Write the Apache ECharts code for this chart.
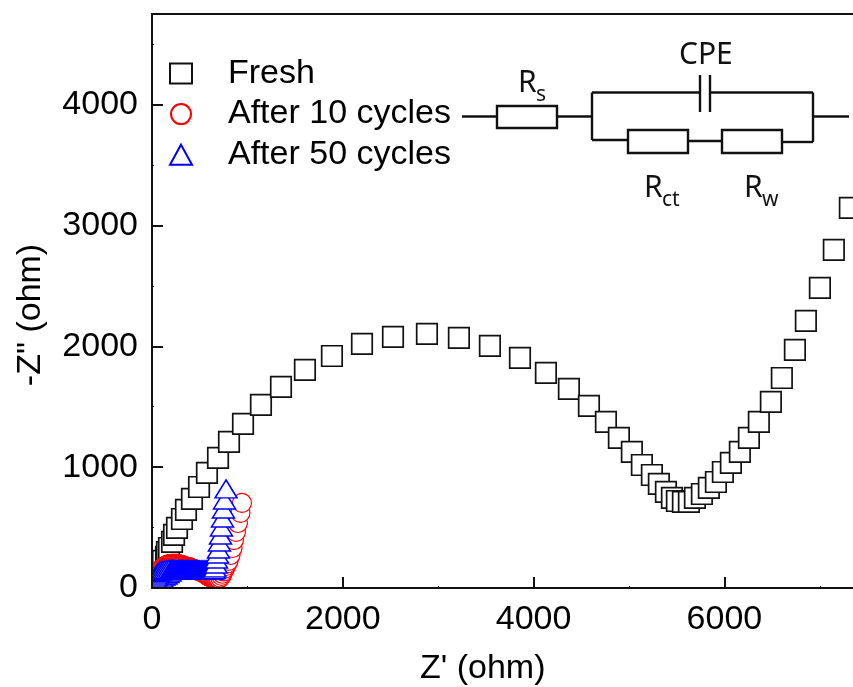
<!DOCTYPE html>
<html>
<head>
<meta charset="utf-8">
<title>Nyquist plot</title>
<script src="https://cdn.jsdelivr.net/npm/echarts@6/dist/echarts.min.js"></script>
<style>
html, body { margin: 0; padding: 0; background: #fff; overflow: hidden; }
#chart { width: 853px; height: 687px; }
</style>
</head>
<body>
<div id="chart"></div>
<script>
// Values
const freshX = [73, 84, 94, 105, 115, 147, 157, 178, 210, 231, 262, 314, 356, 419, 493, 576, 692, 807, 954, 1142, 1352, 1603, 1886, 2201, 2526, 2882, 3217, 3542, 3857, 4129, 4370, 4580, 4758, 4894, 5030, 5135, 5240, 5313, 5387, 5450, 5502, 5565, 5628, 5691, 5764, 5837, 5911, 5984, 6068, 6162, 6257, 6361, 6487, 6602, 6739, 6854, 7001, 7147, 7315];
const freshY = [83, 116, 149, 182, 224, 257, 298, 331, 381, 439, 497, 571, 646, 737, 836, 952, 1076, 1209, 1358, 1515, 1664, 1805, 1920, 2020, 2078, 2103, 2070, 2003, 1904, 1780, 1647, 1507, 1374, 1242, 1126, 1018, 935, 861, 795, 745, 720, 712, 712, 745, 778, 828, 877, 960, 1035, 1126, 1242, 1374, 1540, 1738, 1970, 2210, 2483, 2798, 3146];

const cycles10X = [10, 15, 21, 26, 31, 37, 42, 47, 52, 58,
    63, 73, 84, 94, 105, 115, 126, 136, 147, 157,
    168, 178, 189, 199, 210, 220, 231, 241, 252, 262,
    273, 283, 294, 304, 315, 325, 336, 346, 356, 367,
    377, 388, 398, 409, 419, 430, 440, 451, 461, 472,
    482, 493, 503, 514, 524, 534, 545, 555, 566, 576,
    587, 597, 608, 618, 629, 639, 650, 660, 671, 681,
    692, 702, 715, 728, 738, 749, 762, 776, 789, 802,
    823, 844, 859, 880, 901, 927, 943];
const cycles10Y = [41, 50, 58, 66, 75, 87, 99, 107, 116, 128,
    135, 143, 150, 156, 163, 169, 175, 181, 187, 191,
    195, 195, 197, 199, 199, 199, 199, 199, 199, 199,
    197, 195, 193, 191, 189, 187, 183, 180, 178, 176,
    174, 172, 168, 164, 162, 160, 156, 152, 149, 146,
    143, 141, 137, 133, 131, 129, 122, 116, 110, 104,
    99, 95, 91, 87, 85, 82, 78, 74, 72, 72,
    74, 76, 86, 100, 118, 137, 159, 182, 203, 224,
    273, 331, 397, 464, 538, 621, 704];

const cycles50X = [42, 63, 84, 105, 126, 147, 168, 189,
    10, 21, 31, 42, 52, 63, 79, 94, 115, 136, 157, 178, 199,
    210, 220, 231, 241, 252, 262, 273, 283, 294, 304, 315, 325, 336, 346, 356, 367, 377, 388, 398,
    409, 419, 430, 440, 451, 461, 472, 482, 493, 503, 514, 524, 534, 545, 555, 566, 576, 587, 597, 608, 618, 629, 639, 650,
    660, 671, 676, 686, 697, 707, 718, 728, 739, 749, 760, 776];
const cycles50Y = [25, 50, 66, 83, 99, 108, 120, 132,
    33, 58, 83, 99, 116, 128, 137, 143, 146, 149, 151, 153, 153,
    153, 153, 151, 151, 151, 151, 151, 151, 151, 150, 150, 150, 150, 150, 150, 150, 150, 150, 150,
    150, 150, 150, 150, 150, 150, 149, 149, 149, 149, 149, 149, 149, 148, 148, 148, 148, 148, 148, 148, 148, 149, 150, 153,
    166, 199, 240, 281, 323, 381, 439, 505, 579, 654, 728, 820];

const seriesNames = ['Fresh', 'After 10 cycles', 'After 50 cycles'];
const xTitle = "Z' (ohm)";
const yTitle = '-Z" (ohm)';

function zip(xs, ys) {
    return xs.map(function (x, i) { return [x, ys[i]]; });
}

// Circuit inset, drawn as annotation
function wire(x1, y1, x2, y2) {
    return { type: 'line', z: 20, shape: { x1: x1, y1: y1, x2: x2, y2: y2 }, style: { stroke: '#111', lineWidth: 2.4 } };
}
function box(x, y, w, h) {
    return { type: 'rect', z: 20, shape: { x: x, y: y, width: w, height: h }, style: { fill: '#fff', stroke: '#111', lineWidth: 2.4 } };
}
function label(text, x, y, size) {
    return { type: 'text', z: 20, x: x, y: y, style: { text: text, fill: '#111', fontFamily: 'Noto Sans', fontSize: size, verticalAlign: 'bottom', textAlign: 'left' } };
}

const circuit = [
    wire(462, 116.5, 497, 116.5),
    box(497, 106, 60, 22),
    wire(557, 116.5, 592, 116.5),
    wire(592, 92.5, 592, 140),
    wire(592, 92.5, 700, 92.5),
    wire(700, 75, 700, 112),
    wire(710, 75, 710, 112),
    wire(710, 92.5, 813, 92.5),
    wire(813, 92.5, 813, 142),
    wire(813, 116.5, 849, 116.5),
    wire(592, 140, 628, 140),
    box(628, 130, 60, 23),
    wire(688, 141, 722, 141),
    box(722, 130, 60, 23),
    wire(782, 142, 813, 142),
    label('CPE', 679, 70, 30),
    label('R', 518, 98, 30),
    label('s', 536, 106, 21),
    label('R', 644, 203, 30),
    label('ct', 662, 211, 21),
    label('R', 744, 203, 30),
    label('w', 762, 211, 21)
];

// White strips so markers stop at the axes, as in the original
const masks = [
    { type: 'rect', z: 5, shape: { x: 0, y: 0, width: 151, height: 687 }, style: { fill: '#fff' } },
    { type: 'rect', z: 5, shape: { x: 0, y: 589, width: 853, height: 98 }, style: { fill: '#fff' } }
];

const axisFont = { color: '#000', fontFamily: 'Liberation Sans', fontSize: 34 };
const plainNumber = function (v) { return String(v); };

const chart = echarts.init(document.getElementById('chart'), null, { renderer: 'canvas' });
chart.setOption({
    animation: false,
    backgroundColor: '#fff',
    grid: { show: true, left: 152, top: 14, width: 715.5, height: 574, outerBoundsMode: 'none', containLabel: false, borderColor: '#111', borderWidth: 2, backgroundColor: 'transparent' },
    legend: {
        show: true, left: 164, top: 49, orient: 'vertical', itemWidth: 22, itemHeight: 20, itemGap: 1.6, z: 20,
        data: seriesNames,
        textStyle: { color: '#000', fontFamily: 'Liberation Sans', fontSize: 34, padding: [0, 0, 0, 31], lineHeight: 39 }
    },
    xAxis: {
        type: 'value', min: 0, max: 7500, interval: 2000, z: 10,
        name: xTitle, nameLocation: 'middle', nameGap: 64,
        nameTextStyle: Object.assign({ padding: [0, 54, 0, 0] }, axisFont),
        axisLine: { lineStyle: { color: '#111', width: 2 } },
        axisTick: { inside: true, length: 11, lineStyle: { color: '#111', width: 2 } },
        minorTick: { show: true, splitNumber: 2, length: 2, lineStyle: { color: '#111', width: 1 } },
        splitLine: { show: false },
        axisLabel: Object.assign({ margin: 15, showMaxLabel: false, formatter: plainNumber }, axisFont)
    },
    yAxis: {
        type: 'value', min: 0, max: 4750, interval: 1000, z: 10,
        name: yTitle, nameLocation: 'middle', nameGap: 104,
        nameTextStyle: Object.assign({ padding: [0, 28, 0, 0] }, axisFont),
        axisLine: { lineStyle: { color: '#111', width: 2 } },
        axisTick: { inside: true, length: 11, lineStyle: { color: '#111', width: 2 } },
        minorTick: { show: true, splitNumber: 2, length: 2, lineStyle: { color: '#111', width: 1 } },
        splitLine: { show: false },
        axisLabel: Object.assign({ margin: 14, showMaxLabel: false, formatter: plainNumber }, axisFont)
    },
    series: [
        {
            name: seriesNames[0], type: 'scatter', z: 2, clip: false, silent: true,
            symbol: 'rect', symbolSize: 20.5, data: zip(freshX, freshY),
            itemStyle: { color: '#fff', opacity: 1, borderColor: '#111', borderWidth: 1.7 }
        },
        {
            name: seriesNames[1], type: 'scatter', z: 3, clip: false, silent: true,
            symbol: 'circle', symbolSize: 19, data: zip(cycles10X, cycles10Y),
            itemStyle: { color: '#fff', opacity: 1, borderColor: '#f00', borderWidth: 1.2 }
        },
        {
            name: seriesNames[2], type: 'scatter', z: 4, clip: false, silent: true,
            symbol: 'triangle', symbolSize: [22, 18], data: zip(cycles50X, cycles50Y),
            itemStyle: { color: '#fff', opacity: 1, borderColor: '#00f', borderWidth: 1.5 }
        }
    ],
    graphic: { elements: masks.concat(circuit) }
});
</script>
</body>
</html>
